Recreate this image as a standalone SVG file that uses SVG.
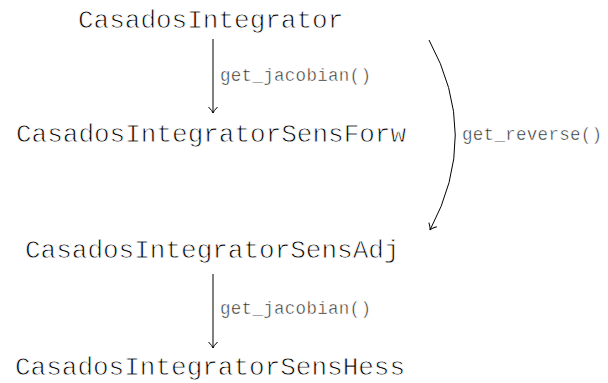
<svg xmlns="http://www.w3.org/2000/svg" width="608" height="383" viewBox="0 0 608 383">
<style>
.node{font-family:"Liberation Mono","Courier New",monospace;font-size:26px;fill:#000;stroke:#fff;stroke-width:0.8px}
.lbl{font-family:"Liberation Mono","Courier New",monospace;font-size:17.5px;fill:#222;stroke:#fff;stroke-width:0.5px;letter-spacing:0.3px}
.edge{stroke:#000;stroke-width:1;fill:none}
</style>
<defs>
<marker id="arr" viewBox="-8 -6 10 12" markerWidth="10" markerHeight="12" refX="0" refY="0" orient="auto" markerUnits="userSpaceOnUse">
<path d="M -6 -4.5 Q -2 -0.5 0 0 Q -2 0.5 -6 4.5" fill="none" stroke="#000" stroke-width="1"/>
</marker>
</defs>
<g id="n1"><text class="node" x="78" y="28">CasadosIntegrator</text></g>
<g id="n2"><text class="node" x="16" y="142">CasadosIntegratorSensForw</text></g>
<g id="n3"><text class="node" x="25" y="258">CasadosIntegratorSensAdj</text></g>
<g id="n4"><text class="node" x="15" y="375">CasadosIntegratorSensHess</text></g>
<g id="edges">
<line class="edge" x1="213" y1="39" x2="213" y2="113" marker-end="url(#arr)"/>
<text class="lbl" x="220" y="81">get_jacobian()</text>
<path class="edge" d="M 429 40 Q 481 135 430 230" marker-end="url(#arr)"/>
<text class="lbl" x="462" y="140">get_reverse()</text>
<line class="edge" x1="213" y1="274" x2="213" y2="348" marker-end="url(#arr)"/>
<text class="lbl" x="220" y="314">get_jacobian()</text>
</g>
</svg>
